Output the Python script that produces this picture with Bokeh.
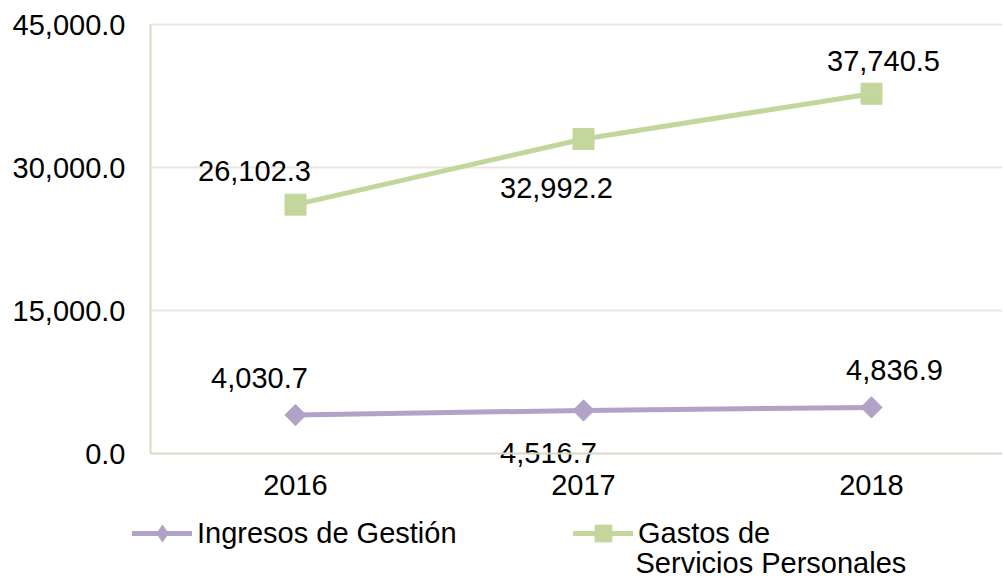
import numpy as np
from bokeh.plotting import figure
from bokeh.models import (ColumnDataSource, Range1d, FixedTicker, Legend, LegendItem,
                          NumeralTickFormatter, Label)
from bokeh.core.properties import value
from bokeh.embed import file_html
from bokeh.resources import INLINE

# ---- data ----
years = ["2016", "2017", "2018"]
ingresos = [4030.7, 4516.7, 4836.9]
gastos = [26102.3, 32992.2, 37740.5]
y_ticks = [0, 15000, 30000, 45000]
ingresos_labels = ["4,030.7", "4,516.7", "4,836.9"]
gastos_labels = ["26,102.3", "32,992.2", "37,740.5"]
legend_names = ["Ingresos de Gestión", "Gastos de", "Servicios Personales"]

# ---- style / layout ----
FONT = "Liberation Sans"
FS = "29px"
PURPLE = "#B3A2C7"
GREEN = "#C3D69B"
AXIS_COL = "#D9D9C8"
GRID_COL = "#EBE6DF"

W, H = 1002, 577          # frame covers the whole canvas
X0_PX, X_STEP = 295.0, 288.0   # pixel of first category, pixels per category
Y0_PX, Y_TOP_PX = 453.0, 24.0  # pixel of value 0 and of value 45000
YMAX = 45000.0
ypp = YMAX / (Y0_PX - Y_TOP_PX)  # value per pixel

x_start = -X0_PX / X_STEP
x_end = (W - X0_PX) / X_STEP
y_start = -(H - Y0_PX) * ypp
y_end = Y0_PX * ypp
axis_x = (150.0 - X0_PX) / X_STEP

xpos = list(range(len(years)))

p = figure(frame_width=W, frame_height=H, output_backend="svg", toolbar_location=None,
           x_range=Range1d(x_start, x_end), y_range=Range1d(y_start, y_end),
           min_border=0)
p.outline_line_color = None
p.background_fill_color = "white"
p.border_fill_color = "white"

# axes
p.xaxis.ticker = FixedTicker(ticks=xpos)
p.xaxis.major_label_overrides = {i: y for i, y in zip(xpos, years)}
p.xaxis.fixed_location = 0
p.xaxis.bounds = (axis_x, x_end)
p.yaxis.ticker = FixedTicker(ticks=y_ticks)
p.yaxis.formatter = NumeralTickFormatter(format="0,0.0")
p.yaxis.fixed_location = axis_x
p.yaxis.bounds = (0, YMAX)
for ax in (p.xaxis, p.yaxis):
    ax.axis_line_color = AXIS_COL
    ax.axis_line_width = 2
    ax.major_tick_line_color = None
    ax.minor_tick_line_color = None
    ax.major_tick_out = 0
    ax.major_tick_in = 0
    ax.minor_tick_out = 0
    ax.minor_tick_in = 0
    ax.major_label_text_font = FONT
    ax.major_label_text_font_size = FS
    ax.major_label_text_color = "black"
p.yaxis.major_label_standoff = 25
p.xaxis.major_label_standoff = 21

p.xgrid.grid_line_color = None
p.ygrid.grid_line_color = None
# horizontal gridlines limited to the plot area (right of the value axis)
grid_y = y_ticks[1:]
p.segment(x0=[axis_x] * len(grid_y), x1=[x_end] * len(grid_y), y0=grid_y, y1=grid_y,
          line_color=GRID_COL, line_width=2, level="underlay")

# series
src_i = ColumnDataSource(dict(x=xpos, y=ingresos, lab=ingresos_labels,
                              dx=[-36, -35, 23], dy=[-37, 43, -37]))
src_g = ColumnDataSource(dict(x=xpos, y=gastos, lab=gastos_labels,
                              dx=[-41, -27, 12], dy=[-34, 49, -33]))

l1 = p.line("x", "y", source=src_i, line_color=PURPLE, line_width=5, line_cap="round")
# diamond used for the legend swatch (legend swatches do not rotate markers);
# drawn first so the rotated squares cover it in the plot
s1_leg = p.scatter("x", "y", source=src_i, marker="diamond", size=20,
                   fill_color=PURPLE, line_color=PURPLE)
s1 = p.scatter("x", "y", source=src_i, marker="square", angle=np.pi / 4, size=15,
               fill_color=PURPLE, line_color=PURPLE)
l2 = p.line("x", "y", source=src_g, line_color=GREEN, line_width=5, line_cap="round")
s2 = p.scatter("x", "y", source=src_g, marker="square", size=21,
               fill_color=GREEN, line_color=GREEN)

for src in (src_i, src_g):
    p.text("x", "y", text="lab", source=src, x_offset="dx", y_offset="dy",
           text_align="center", text_baseline="middle",
           text_font=value(FONT), text_font_size=value(FS), text_color="black")

legend = Legend(items=[LegendItem(label=legend_names[0], renderers=[l1, s1_leg]),
                       LegendItem(label=legend_names[1], renderers=[l2, s2])],
                location=(132, H - 554), orientation="horizontal",
                glyph_width=60, glyph_height=42, label_standoff=5, label_width=370,
                spacing=6, padding=0, margin=0, border_line_color=None,
                background_fill_alpha=0, label_text_font=FONT, label_text_font_size=FS,
                label_text_color="black", label_text_baseline="middle")
p.add_layout(legend)

p.add_layout(Label(x=635, y=H - 562, x_units="screen", y_units="screen",
                   text=legend_names[2], text_font=FONT, text_font_size=FS,
                   text_color="black", text_baseline="middle"))

open("out.html", "w").write(file_html(p, INLINE))
